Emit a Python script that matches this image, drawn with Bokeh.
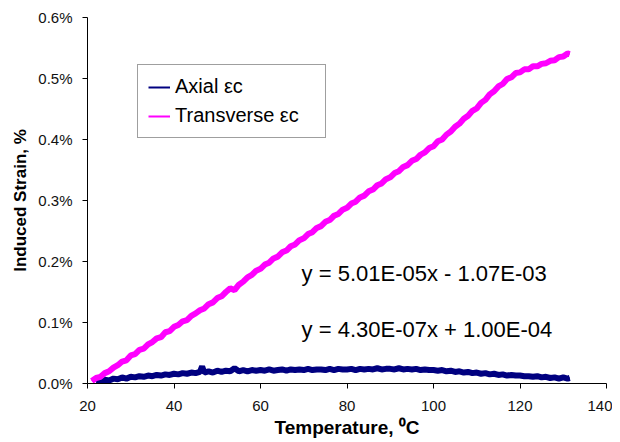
from bokeh.plotting import figure
from bokeh.models import Legend, LegendItem, Label, PrintfTickFormatter, FixedTicker, Range1d
from bokeh.embed import file_html
from bokeh.resources import INLINE

# Temperature (deg C)
temp_t = [21, 22, 23, 24, 25, 26, 27, 28, 29, 30, 31, 32, 33, 34, 35, 36, 37, 38, 39, 40,
          41, 42, 43, 44, 45, 46, 47, 48, 49, 50, 51, 52, 53, 54, 55, 56, 57, 58, 59, 60,
          61, 62, 63, 64, 65, 66, 67, 68, 69, 70, 71, 72, 73, 74, 75, 76, 77, 78, 79, 80,
          81, 82, 83, 84, 85, 86, 87, 88, 89, 90, 91, 92, 93, 94, 95, 96, 97, 98, 99, 100,
          101, 102, 103, 104, 105, 106, 107, 108, 109, 110, 111, 112, 113, 114, 115, 116, 117, 118, 119, 120,
          121, 122, 123, 124, 125, 126, 127, 128, 129, 130, 131, 131.5]
# Transverse induced strain (%)
transverse = [0.004, 0.009, 0.011, 0.017, 0.020, 0.026, 0.030, 0.036, 0.038, 0.046, 0.048, 0.055, 0.057, 0.064, 0.068, 0.074, 0.076, 0.084, 0.086, 0.093,
              0.096, 0.102, 0.104, 0.111, 0.115, 0.120, 0.123, 0.130, 0.133, 0.140, 0.143, 0.150, 0.156, 0.153, 0.162, 0.167, 0.174, 0.178, 0.185, 0.188,
              0.195, 0.198, 0.205, 0.208, 0.215, 0.218, 0.225, 0.228, 0.235, 0.238, 0.245, 0.248, 0.255, 0.258, 0.265, 0.268, 0.275, 0.278, 0.285, 0.288,
              0.295, 0.298, 0.305, 0.308, 0.315, 0.318, 0.325, 0.328, 0.335, 0.338, 0.345, 0.348, 0.355, 0.358, 0.365, 0.368, 0.375, 0.379, 0.386, 0.389,
              0.397, 0.400, 0.408, 0.413, 0.421, 0.426, 0.434, 0.439, 0.447, 0.451, 0.460, 0.465, 0.474, 0.479, 0.487, 0.491, 0.499, 0.502, 0.509, 0.510,
              0.515, 0.515, 0.520, 0.520, 0.524, 0.525, 0.529, 0.530, 0.535, 0.536, 0.541, 0.540]

temp_a = [22, 23, 24, 25, 26, 27, 28, 29, 30, 31, 32, 33, 34, 35, 36, 37, 38, 39, 40,
          41, 42, 43, 44, 45, 46, 46.5, 47, 48, 49, 50, 51, 52, 53, 54, 55, 56, 57, 58, 59, 60,
          61, 62, 63, 64, 65, 66, 67, 68, 69, 70, 71, 72, 73, 74, 75, 76, 77, 78, 79, 80,
          81, 82, 83, 84, 85, 86, 87, 88, 89, 90, 91, 92, 93, 94, 95, 96, 97, 98, 99, 100,
          101, 102, 103, 104, 105, 106, 107, 108, 109, 110, 111, 112, 113, 114, 115, 116, 117, 118, 119, 120,
          121, 122, 123, 124, 125, 126, 127, 128, 129, 130, 131, 131.5]
# Axial induced strain (%)
axial = [0.002, 0.004, 0.006, 0.005, 0.008, 0.007, 0.010, 0.008, 0.011, 0.010, 0.012, 0.011, 0.013, 0.012, 0.014, 0.013, 0.015, 0.014, 0.016,
         0.015, 0.017, 0.016, 0.018, 0.017, 0.019, 0.028, 0.018, 0.020, 0.018, 0.021, 0.019, 0.021, 0.020, 0.025, 0.020, 0.022, 0.020, 0.022, 0.021, 0.022,
         0.021, 0.023, 0.021, 0.022, 0.023, 0.021, 0.023, 0.022, 0.023, 0.022, 0.024, 0.022, 0.023, 0.023, 0.022, 0.024, 0.022, 0.024, 0.023, 0.023,
         0.024, 0.022, 0.024, 0.023, 0.024, 0.023, 0.025, 0.023, 0.024, 0.024, 0.023, 0.025, 0.023, 0.024, 0.023, 0.024, 0.022, 0.023, 0.022, 0.022,
         0.021, 0.022, 0.020, 0.021, 0.019, 0.020, 0.018, 0.019, 0.017, 0.018, 0.016, 0.017, 0.015, 0.016, 0.014, 0.015, 0.013, 0.014, 0.013, 0.013,
         0.012, 0.012, 0.011, 0.012, 0.010, 0.011, 0.009, 0.010, 0.008, 0.010, 0.008, 0.009]

series_names = ["Axial \u03b5c", "Transverse \u03b5c"]
series_colors = ["#000080", "#FF00FF"]
equations = ["y = 5.01E-05x - 1.07E-03", "y = 4.30E-07x + 1.00E-04"]
equation_y = [0.181, 0.089]
x_ticks = [20, 40, 60, 80, 100, 120, 140]
y_ticks = [0.0, 0.1, 0.2, 0.3, 0.4, 0.5, 0.6]

FONT = "Liberation Sans"

p = figure(width=612, height=441, output_backend="svg", toolbar_location=None,
           x_range=Range1d(20, 140), y_range=Range1d(0, 0.6),
           min_border_left=87, min_border_right=6, min_border_top=17, min_border_bottom=58)
p.outline_line_color = None
p.xgrid.visible = False
p.ygrid.visible = False

for ax in (p.xaxis[0], p.yaxis[0]):
    ax.axis_line_color = "black"
    ax.major_tick_line_color = "black"
    ax.minor_tick_line_color = None
    ax.major_tick_in = 0
    ax.major_tick_out = 5
    ax.major_label_text_font = FONT
    ax.major_label_text_font_size = "15px"
    ax.major_label_text_color = "#111111"
    ax.axis_label_text_font = FONT
    ax.axis_label_text_font_style = "bold"
    ax.axis_label_text_color = "black"

p.xaxis.ticker = FixedTicker(ticks=x_ticks)
p.yaxis.ticker = FixedTicker(ticks=y_ticks)
p.yaxis.formatter = PrintfTickFormatter(format="%.1f%%")
p.xaxis.major_label_standoff = 12
p.yaxis.major_label_standoff = 10
p.xaxis.axis_label = "Temperature, \u2070C"
p.xaxis.axis_label_text_font_size = "19px"
p.xaxis.axis_label_standoff = 3
p.yaxis.axis_label = "Induced Strain, %"
p.yaxis.axis_label_text_font_size = "17px"
p.yaxis.axis_label_standoff = 5

# thin lines used as legend swatches; fully covered by the thick bands below
leg_ax = p.line(temp_a, axial, line_color=series_colors[0], line_width=2)
leg_tr = p.line(temp_t, transverse, line_color=series_colors[1], line_width=2)

p.line(temp_a, axial, line_color=series_colors[0], line_width=6)
p.line(temp_t, transverse, line_color=series_colors[1], line_width=6)

legend = Legend(items=[LegendItem(label=series_names[0], renderers=[leg_ax]),
                       LegendItem(label=series_names[1] + "   ", renderers=[leg_tr])],
                location=(50, 245))
legend.label_text_font = FONT
legend.label_text_font_size = "20px"
legend.label_text_color = "black"
legend.glyph_width = 22
legend.glyph_height = 20
legend.label_height = 20
legend.label_standoff = 5
legend.spacing = 6
legend.padding = 10
legend.margin = 0
legend.border_line_color = "#404040"
legend.border_line_width = 1
legend.background_fill_alpha = 1
legend.click_policy = "none"
p.add_layout(legend, "center")

for txt, yv in zip(equations, equation_y):
    p.add_layout(Label(x=69.5, y=yv, text=txt, text_font=FONT, text_font_size="22px",
                       text_baseline="middle", text_align="left", text_color="black"))

open("out.html", "w").write(file_html(p, INLINE))
